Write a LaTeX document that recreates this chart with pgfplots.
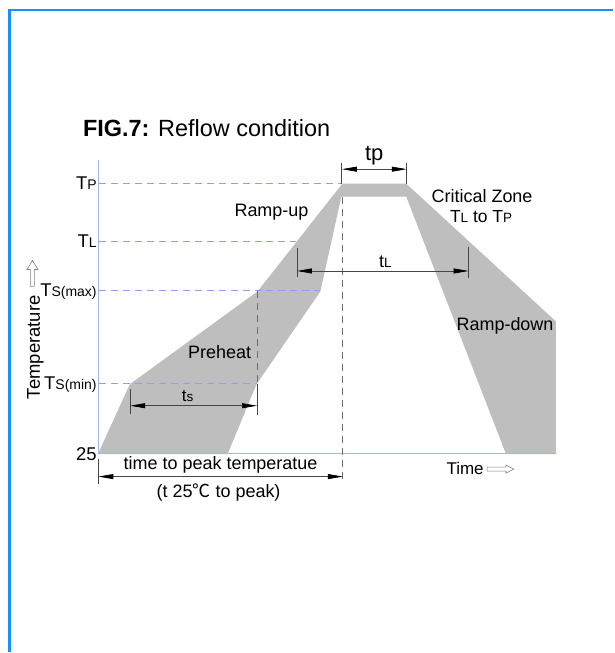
\documentclass[border=0pt]{standalone}
\usepackage{fontspec}
\setmainfont{Liberation Sans}
\newfontfamily\cjk{Noto Sans CJK SC}
\usepackage{pgfplots}
\pgfplotsset{compat=1.18}
\usetikzlibrary{arrows.meta}
\definecolor{fillgray}{RGB}{190,190,190}
\definecolor{dashblue}{RGB}{140,160,235}
\definecolor{axisblue}{RGB}{165,180,240}
\definecolor{framblue}{RGB}{25,145,250}
\definecolor{annot}{RGB}{70,70,70}
\definecolor{vdash}{RGB}{110,110,110}
\newcommand\Fs[1]{\fontsize{#1bp}{#1bp}\selectfont}
\begin{document}
\begin{tikzpicture}
\begin{axis}[
  scale only axis, width=459bp, height=295bp,
  xmin=98, xmax=557, ymin=0, ymax=295,
  clip=false,
  axis lines=left,
  axis line style={draw=none},
  xtick=\empty,
  ytick={0,70,163,213,271},
  yticklabels={25,{T{\Fs{14}S(min)}},{T{\Fs{14}S(max)}},{T{\Fs{14}L}},{T{\Fs{14}P}}},
  yticklabel style={font=\Fs{18.5}, inner sep=1bp},
  major tick length=0pt,
  tick style={draw=none},
]
% bounding box / frame
\path (axis cs:0,-198) rectangle (axis cs:614,455);
\addplot[framblue, line width=2.5bp] coordinates {(9.5,-198) (9.5,445) (614,445)};
% grey band
\addplot[fill=fillgray, draw=none] coordinates {
 (98,0) (130,70) (258,163) (343,271) (407,271) (557,133) (557,0)
 (507,0) (407,258) (342,258) (321,163) (257,70) (228,0)} -- cycle;
% axis lines
\addplot[axisblue, line width=1bp] coordinates {(98.5,295) (98.5,0.5) (557,0.5)};
% blue dashed levels
\addplot[dashblue, line width=1bp, dash pattern=on 7bp off 5bp] coordinates {(99,271.5) (343,271.5)};
\addplot[dashblue, line width=1bp, dash pattern=on 7bp off 5bp] coordinates {(99,213.5) (297,213.5)};
\addplot[dashblue, line width=1bp, dash pattern=on 7bp off 5bp] coordinates {(99,163.5) (321,163.5)};
\addplot[dashblue, line width=1bp, dash pattern=on 7bp off 5bp] coordinates {(99,70.5) (257,70.5)};
% grey dashed verticals
\addplot[vdash, line width=0.8bp, dash pattern=on 7bp off 5bp] coordinates {(343.5,258) (343.5,-30)};
\addplot[vdash, line width=0.8bp, dash pattern=on 7bp off 5bp] coordinates {(257.5,163) (257.5,70)};
% tick marks for dimension arrows
\addplot[annot, line width=0.7bp] coordinates {(342.5,292) (342.5,271)};
\addplot[annot, line width=0.7bp] coordinates {(407.5,292) (407.5,271)};
\addplot[annot, line width=0.7bp] coordinates {(297.5,207) (297.5,177)};
\addplot[annot, line width=0.7bp] coordinates {(469.5,208) (469.5,176)};
\addplot[annot, line width=0.7bp] coordinates {(130.5,65) (130.5,40)};
\addplot[annot, line width=0.7bp] coordinates {(257.5,70) (257.5,39)};
\addplot[annot, line width=0.7bp] coordinates {(98.5,-5) (98.5,-30)};
% dimension arrows
\addplot[annot, line width=0.7bp, {Triangle[length=15bp,width=5bp,black]}-{Triangle[length=15bp,width=5bp,black]}] coordinates {(342.5,285.5) (407.5,285.5)};
\addplot[annot, line width=0.7bp, {Triangle[length=15bp,width=5bp,black]}-{Triangle[length=15bp,width=5bp,black]}] coordinates {(297.5,183.5) (469.5,183.5)};
\addplot[annot, line width=0.7bp, {Triangle[length=15bp,width=5bp,black]}-{Triangle[length=15bp,width=5bp,black]}] coordinates {(130.5,48.5) (257.5,48.5)};
\addplot[annot, line width=0.7bp, {Triangle[length=15bp,width=5bp,black]}-{Triangle[length=15bp,width=5bp,black]}] coordinates {(98.5,-22.5) (343.5,-22.5)};
% hollow arrows
\addplot[gray, line width=0.6bp, fill=white] coordinates {(30.5,168) (34.5,168) (34.5,185) (38,185) (32.5,194) (27,185) (30.5,185)} -- cycle;
\addplot[gray, line width=0.6bp, fill=white] coordinates {(488,-13) (507,-13) (507,-11) (515,-15) (507,-19) (507,-17) (488,-17)} -- cycle;
% texts
\node[anchor=base west, inner sep=0pt] at (axis cs:83,318) {\Fs{23.5}\textbf{FIG.7:} Reflow condition};
\node[anchor=base, inner sep=0pt] at (axis cs:375,294) {\Fs{22}tp};
\node[anchor=base, inner sep=0pt] at (axis cs:483,252) {\Fs{18}Critical Zone};
\node[anchor=base, inner sep=0pt] at (axis cs:482,232) {\Fs{17.5}T{\Fs{13.5}L} to T{\Fs{13.5}P}};
\node[anchor=base, inner sep=0pt] at (axis cs:272,238) {\Fs{18}Ramp-up};
\node[anchor=base, inner sep=0pt] at (axis cs:506,124) {\Fs{18}Ramp-down};
\node[anchor=base, inner sep=0pt] at (axis cs:220,96) {\Fs{18}Preheat};
\node[anchor=base, inner sep=0pt] at (axis cs:386,187) {\Fs{18}t{\Fs{13.5}L}};
\node[anchor=base, inner sep=0pt] at (axis cs:188,53) {\Fs{17}t{\Fs{13.5}s}};
\node[anchor=base, inner sep=0pt] at (axis cs:221,-15) {\Fs{18}time to peak temperatue};
\node[anchor=base, inner sep=0pt] at (axis cs:219,-43) {\Fs{18}(t 25{\cjk ℃} to peak)};
\node[anchor=base, inner sep=0pt] at (axis cs:466,-20) {\Fs{17}Time};
\node[anchor=base, inner sep=0pt, rotate=90] at (axis cs:40,107) {\Fs{18.5}Temperature};
\end{axis}
\end{tikzpicture}
\end{document}
